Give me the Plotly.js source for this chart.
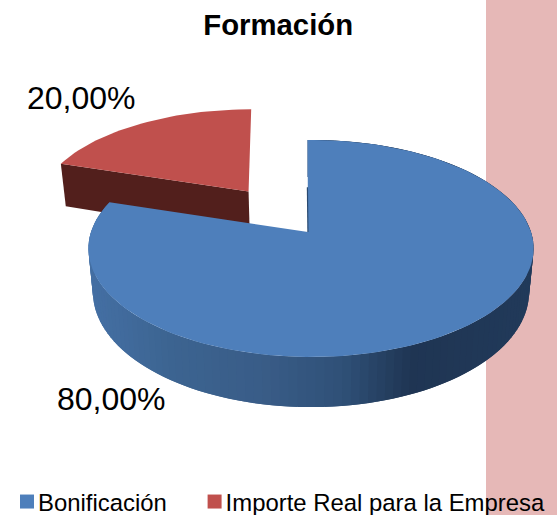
<!DOCTYPE html>
<html>
<head>
<meta charset="utf-8">
<script src="https://cdn.plot.ly/plotly-3.0.1.min.js"></script>
<style>html,body{margin:0;padding:0;background:#fff}#chart{width:557px;height:515px}</style>
</head>
<body>
<div id="chart"></div>
<script>
var categories = ["Bonificación", "Importe Real para la Empresa"];
var values = [80, 20];
var valueLabels = ["80,00%", "20,00%"];
var topColors = ["#4E7FBB", "#C0504D"];
var redWallColor = "#521F1C";
var sideStops = [[88, "#446FA3"], [160, "#3C6491"], [250, "#395C87"], [330, "#2F5077"], [400, "#1F3553"], [530, "#213A5A"]];

// Projection of the tilted disc onto the picture, in the pixel-sized data axes
var cx = 311, cy = 232, A = 220, B = 106, K = 0.152, SHRINK = 0.02;
var startAngle = -1, blueDepth = 42.5, redDepth = 47, redShear = -5, redShift = -1.5;
function project(X, Y, down, depth, shear) {
  var w = 1 + K * Y, s = 1 - SHRINK * down;
  return [cx + A * X / w * s + (shear ? shear * (Y - 0.4) + redShift : 0), cy - B * Y / w + depth * down / w];
}
function hexToRgb(h) { return [1, 3, 5].map(function (i) { return parseInt(h.substr(i, 2), 16); }); }
function sideColor(x) {
  var st = sideStops;
  if (x <= st[0][0]) return st[0][1];
  for (var i = 1; i < st.length; i++) {
    if (x <= st[i][0]) {
      var t = (x - st[i - 1][0]) / (st[i][0] - st[i - 1][0]);
      var a = hexToRgb(st[i - 1][1]), b = hexToRgb(st[i][1]);
      return "rgb(" + a.map(function (v, j) { return Math.round(v + (b[j] - v) * t); }).join(",") + ")";
    }
  }
  return st[st.length - 1][1];
}
function polygon(points, color) {
  return {
    type: "scatter", mode: "lines", fill: "toself", fillcolor: color,
    x: points.map(function (p) { return p[0]; }), y: points.map(function (p) { return p[1]; }),
    line: { width: 0 }, showlegend: false, hoverinfo: "skip"
  };
}
function rim(deg) { var r = deg * Math.PI / 180; return [Math.sin(r), Math.cos(r)]; }

var total = values.reduce(function (a, b) { return a + b; }, 0);
var blueSweep = 360 * values[0] / total;
var redSweep = 360 * values[1] / total;
var traces = [];

// Exploded slice: pulled out along the middle of its own angle
var pull = 0.5, redMid = blueSweep + redSweep / 2;
var ex = rim(redMid)[0] * pull, ey = rim(redMid)[1] * pull;
var redTip = rim(blueSweep);
traces.push(polygon([
  project(ex, ey, 0, redDepth, redShear), project(ex + redTip[0], ey + redTip[1], 0, redDepth, redShear),
  project(ex + redTip[0], ey + redTip[1], 1, redDepth, redShear), project(ex, ey, 1, redDepth, redShear)
], redWallColor));
var redTop = [project(ex, ey, 0, redDepth, redShear)];
for (var a = blueSweep; a <= 360.001; a += 2) {
  var p = rim(a);
  redTop.push(project(ex + p[0], ey + p[1], 0, redDepth, redShear));
}
traces.push(polygon(redTop, topColors[1]));

// Blue side wall: overlapping strips so the shading has no seams
for (var d = 0; d < blueSweep; d += 2) {
  var e = Math.min(d + 2, blueSweep);
  var p0 = rim(startAngle + Math.max(d - 2, 0)), p1 = rim(startAngle + e);
  var a0 = project(p0[0], p0[1], 0, blueDepth), a1 = project(p1[0], p1[1], 0, blueDepth);
  var b1 = project(p1[0], p1[1], 1, blueDepth), b0 = project(p0[0], p0[1], 1, blueDepth);
  traces.push(polygon([a0, a1, b1, b0], sideColor(a1[0])));
}
var hub = project(rim(startAngle)[0] * 0.8, 0, 0, blueDepth);
var blueTop = [hub];
for (var t = 0; t <= blueSweep + 0.001; t += 2) {
  var q = rim(startAngle + t);
  blueTop.push(project(q[0], q[1], 0, blueDepth));
}
traces.push(polygon(blueTop, topColors[0]));

// Thin dark sliver of the inner wall along the notch
var notchTop = rim(startAngle), wallA = project(notchTop[0], notchTop[1] * 0.45, 0, blueDepth);
traces.push({
  type: "scatter", mode: "lines", x: [wallA[0], hub[0]], y: [wallA[1], hub[1]],
  line: { color: "#2A4A70", width: 1.2 }, showlegend: false, hoverinfo: "skip"
});

// Legend entries
categories.forEach(function (name, i) {
  traces.push({
    type: "scatter", mode: "markers", x: [null], y: [null], name: name,
    marker: { symbol: "square", size: 14, color: topColors[i] }, hoverinfo: "skip"
  });
});

var textFont = "'Liberation Sans', Arial, sans-serif";
var layout = {
  width: 557, height: 515,
  margin: { l: 0, r: 0, t: 0, b: 0, autoexpand: false },
  paper_bgcolor: "#FFFFFF", plot_bgcolor: "rgba(0,0,0,0)",
  hovermode: false,
  xaxis: { range: [0, 557], visible: false, fixedrange: true },
  yaxis: { range: [515, 0], visible: false, fixedrange: true },
  title: {
    text: "<b>Formación</b>", x: 0.4995, xanchor: "center", y: 0.951, yanchor: "middle",
    font: { family: textFont, size: 29.3, color: "#000000" }
  },
  shapes: [{
    type: "rect", layer: "below", xref: "x", yref: "y", x0: 486, x1: 557, y0: 0, y1: 515,
    fillcolor: "#E6B8B7", line: { width: 0 }
  }],
  annotations: [
    { text: valueLabels[1], x: 81, y: 98, xref: "x", yref: "y", showarrow: false,
      font: { family: textFont, size: 32, color: "#000000" } },
    { text: valueLabels[0], x: 111, y: 399, xref: "x", yref: "y", showarrow: false,
      font: { family: textFont, size: 32, color: "#000000" } }
  ],
  showlegend: true,
  legend: {
    orientation: "h", x: -0.0036, xanchor: "left", y: 0.0233, yanchor: "middle",
    font: { family: textFont, size: 23.9, color: "#000000" },
    bgcolor: "rgba(0,0,0,0)", borderwidth: 0, itemclick: false, itemdoubleclick: false
  }
};
Plotly.newPlot("chart", traces, layout, { displayModeBar: false, staticPlot: true }).then(function (gd) {
  // Place the legend low in the frame, with swatches close to their labels, as in the reference
  gd.querySelectorAll(".legend .traces .legendsymbols").forEach(function (el) {
    el.setAttribute("transform", "translate(9,0)");
  });
  var box = gd.querySelector(".legend .scrollbox");
  if (box) box.removeAttribute("clip-path");
  var clip = gd.querySelector(".legend");
  if (clip) {
    clip.style.overflow = "visible";
    var g = /translate\(\s*([-\d.]+)[ ,]+([-\d.]+)/.exec(clip.getAttribute("transform") || "");
    if (g) clip.setAttribute("transform", "translate(" + g[1] + "," + (parseFloat(g[2]) + 16) + ")");
  }
  var items = gd.querySelectorAll(".legend .traces");
  if (items.length === 2) {
    var m = /translate\(\s*([-\d.]+)[ ,]+([-\d.]+)/.exec(items[0].getAttribute("transform") || "");
    if (m) items[1].setAttribute("transform", "translate(" + (parseFloat(m[1]) + 187.6) + "," + m[2] + ")");
  }
});
</script>
</body>
</html>
